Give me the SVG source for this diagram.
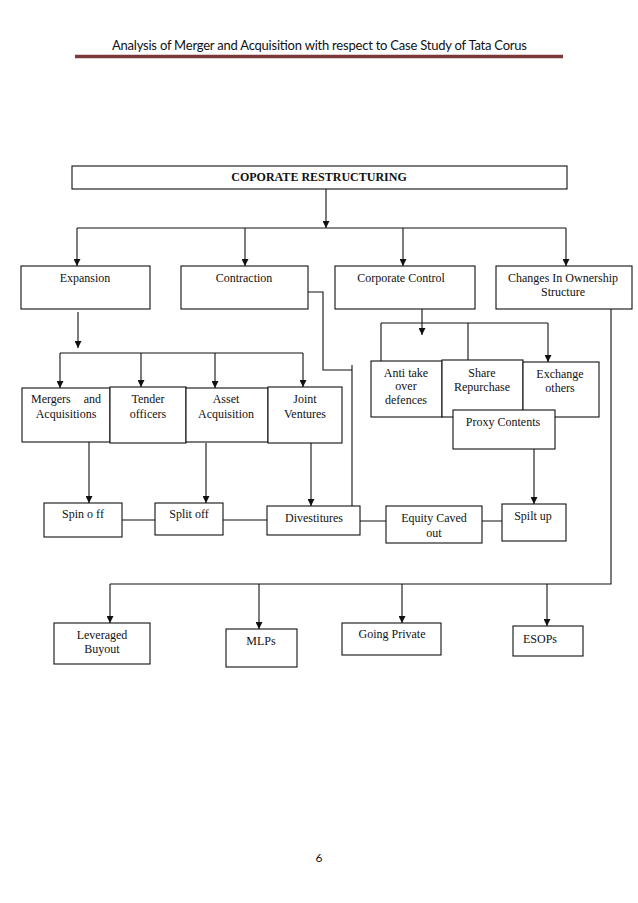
<svg xmlns="http://www.w3.org/2000/svg" width="638" height="903" viewBox="0 0 638 903">
<defs>
<marker id="ah" markerWidth="7" markerHeight="7" refX="7" refY="3.5" orient="auto" markerUnits="userSpaceOnUse">
<path d="M0,0 L7,3.5 L0,7 z" fill="#111"/>
</marker>
<style>
.box{fill:#fff;stroke:#111;stroke-width:1.1}
.t{font-family:"Liberation Serif","Times New Roman",serif;font-size:12px;fill:#111;text-anchor:middle}
.c{fill:none;stroke:#111;stroke-width:1.1}
.a{fill:none;stroke:#111;stroke-width:1.1;marker-end:url(#ah)}
</style>
</defs>
<rect width="638" height="903" fill="#fff"/>
<text x="319.5" y="50" font-family="Lato,'Open Sans',sans-serif" font-size="13" fill="#111" text-anchor="middle" textLength="415" lengthAdjust="spacing">Analysis of Merger and Acquisition with respect to Case Study of Tata Corus</text>
<line x1="75" y1="56.5" x2="563" y2="56.5" stroke="#7b3838" stroke-width="3.5"/>

<g id="connectors">
<path class="a" d="M326,189 V228"/>
<path class="c" d="M77,228 H566"/>
<path class="a" d="M77,228 V266"/>
<path class="a" d="M245,228 V266"/>
<path class="a" d="M403,228 V266"/>
<path class="a" d="M566,228 V266"/>
<path class="a" d="M78,312 V348"/>
<path class="c" d="M60,353 H303"/>
<path class="a" d="M60,353 V388"/>
<path class="a" d="M141,353 V387"/>
<path class="a" d="M215,353 V388"/>
<path class="a" d="M303,353 V387"/>
<path class="c" d="M308,292 H323 V370 H352 M352,365 V506"/>
<path class="a" d="M422,309 V335"/>
<path class="c" d="M381,323 H548 M381,323 V361 M468,323 V360"/>
<path class="a" d="M548,323 V362"/>
<path class="a" d="M89,442 V503"/>
<path class="a" d="M206,443 V503"/>
<path class="a" d="M311,443 V506"/>
<path class="a" d="M534,449 V504"/>
<path class="c" d="M122,520 H155 M223,520 H267 M360,521 H386 M482,521 H502"/>
<path class="c" d="M611,309 V584 H110"/>
<path class="a" d="M110,584 V623"/>
<path class="a" d="M259,584 V629"/>
<path class="a" d="M402,584 V623"/>
<path class="a" d="M547,584 V626"/>
</g>

<g id="root"><rect class="box" x="72" y="166" width="495" height="23" stroke="#777"/><text class="t" x="319" y="181" font-weight="bold" font-size="12.5">COPORATE RESTRUCTURING</text></g>

<g id="expansion"><rect class="box" x="21" y="266" width="129" height="43"/><text class="t" x="85" y="282">Expansion</text></g>
<g id="contraction"><rect class="box" x="181" y="266" width="127" height="43"/><text class="t" x="244" y="282">Contraction</text></g>
<g id="corporate-control"><rect class="box" x="335" y="266" width="140" height="43"/><text class="t" x="401" y="282">Corporate Control</text></g>
<g id="ownership"><rect class="box" x="496" y="266" width="136" height="43"/><text class="t" x="563" y="282">Changes In Ownership</text><text class="t" x="563" y="296">Structure</text></g>

<g id="mergers"><rect class="box" x="22" y="388" width="88" height="54"/><text class="t" y="403"><tspan x="31" style="text-anchor:start">Mergers</tspan><tspan x="101" style="text-anchor:end"> and</tspan></text><text class="t" x="66" y="418">Acquisitions</text></g>
<g id="tender"><rect class="box" x="110" y="387" width="76" height="56"/><text class="t" x="148" y="403">Tender</text><text class="t" x="148" y="418">officers</text></g>
<g id="asset"><rect class="box" x="186" y="388" width="82" height="54"/><text class="t" x="226" y="403">Asset</text><text class="t" x="226" y="418">Acquisition</text></g>
<g id="joint"><rect class="box" x="268" y="387" width="74" height="56"/><text class="t" x="305" y="403">Joint</text><text class="t" x="305" y="418">Ventures</text></g>

<g id="antitake"><rect class="box" x="371" y="361" width="71" height="56"/><text class="t" x="406" y="377">Anti take</text><text class="t" x="406" y="390">over</text><text class="t" x="406" y="404">defences</text></g>
<g id="share"><rect class="box" x="442" y="360" width="81" height="57"/><text class="t" x="482" y="377">Share</text><text class="t" x="482" y="391">Repurchase</text></g>
<g id="exchange"><rect class="box" x="523" y="362" width="76" height="55"/><text class="t" x="560" y="378">Exchange</text><text class="t" x="560" y="392">others</text></g>
<g id="proxy"><rect class="box" x="453" y="410" width="102" height="39"/><text class="t" x="503" y="426">Proxy Contents</text></g>

<g id="spinoff"><rect class="box" x="44" y="503" width="78" height="34"/><text class="t" x="83" y="518">Spin o ff</text></g>
<g id="splitoff"><rect class="box" x="155" y="503" width="68" height="32"/><text class="t" x="189" y="518">Split off</text></g>
<g id="divestitures"><rect class="box" x="267" y="506" width="93" height="29"/><text class="t" x="314" y="522">Divestitures</text></g>
<g id="equity"><rect class="box" x="386" y="506" width="96" height="37"/><text class="t" x="434" y="522">Equity Caved</text><text class="t" x="434" y="537">out</text></g>
<g id="splitup"><rect class="box" x="502" y="504" width="64" height="37"/><text class="t" x="533" y="520">Spilt up</text></g>

<g id="lbo"><rect class="box" x="54" y="623" width="96" height="41"/><text class="t" x="102" y="639">Leveraged</text><text class="t" x="102" y="653">Buyout</text></g>
<g id="mlps"><rect class="box" x="226" y="629" width="71" height="38"/><text class="t" x="261" y="645">MLPs</text></g>
<g id="goingprivate"><rect class="box" x="342" y="623" width="99" height="32"/><text class="t" x="392" y="638">Going Private</text></g>
<g id="esops"><rect class="box" x="513" y="626" width="70" height="30"/><text class="t" x="540" y="643">ESOPs</text></g>

<text x="319" y="862" font-family="Lato,'Open Sans',sans-serif" font-size="12" fill="#111" text-anchor="middle">6</text>
</svg>
